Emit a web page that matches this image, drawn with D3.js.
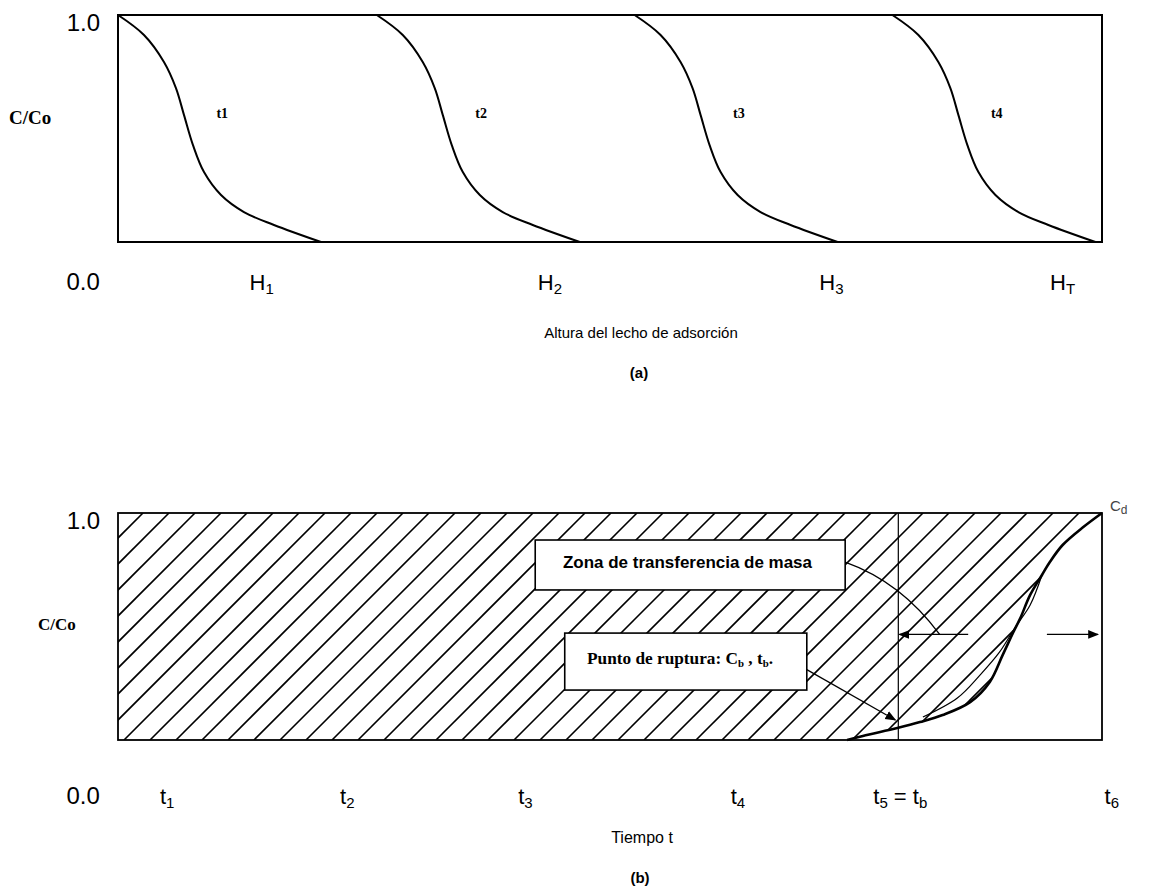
<!DOCTYPE html>
<html>
<head>
<meta charset="utf-8">
<script src="https://cdn.jsdelivr.net/npm/d3@7"></script>
<style>
  html, body { margin: 0; padding: 0; background: #fff; }
  svg { display: block; }
</style>
</head>
<body>
<svg id="chart" width="1153" height="887"></svg>
<script>
// ---------------- DATA ----------------
// (a) concentration profile shape along the bed (offset from curve start, bed-height units 0-100)
const profileOffset = [0, 2.64, 4.67, 5.89, 6.71, 7.62, 8.74, 10.47, 12.80, 15.85, 20.63];
const profileC      = [1.0, 0.912, 0.793, 0.678, 0.559, 0.427, 0.308, 0.207, 0.132, 0.075, 0.0];
const profileNames  = ["t1", "t2", "t3", "t4"];
const profileStart  = [0, 26.3, 52.5, 78.7];
const profileLabelOffset = 10.6;
const profileLabelC = 0.568;
const heightTickPos    = [-1.85, 14.6, 43.9, 72.5, 96.0];
const heightTickLabels = ["0.0", "H_1", "H_2", "H_3", "H_T"];

// (b) breakthrough curve (time units 0-100)
const breakT = [74.1, 75.7, 79.2, 81.5, 83.8, 86.6, 88.6, 89.9, 91.0, 91.7, 92.7, 93.9, 94.7, 96.0, 98.1, 100];
const breakC = [0.0, 0.018, 0.053, 0.079, 0.110, 0.167, 0.256, 0.374, 0.476, 0.537, 0.639, 0.727, 0.784, 0.859, 0.938, 1.0];
const innerT = [81.8, 85.3, 87.6, 89.6, 91.2, 92.7, 93.9];
const innerC = [0.101, 0.185, 0.286, 0.388, 0.498, 0.595, 0.727];
const breakpointT = 79.3;
const timeTickPos    = [-1.85, 5.0, 23.3, 41.4, 63.0, 79.5, 101.0];
const timeTickLabels = ["0.0", "t_1", "t_2", "t_3", "t_4", "t_5 = t_b", "t_6"];

// ---------------- SETUP ----------------
const svg = d3.select("#chart");
const SANS = "'Liberation Sans', Arial, Helvetica, sans-serif";
const SERIF = "'Liberation Serif', 'Times New Roman', serif";

const x = d3.scaleLinear().domain([0, 100]).range([118, 1102]);
const yA = d3.scaleLinear().domain([0, 1]).range([242, 15]);
const yB = d3.scaleLinear().domain([0, 1]).range([740, 513]);

// marker
const defs = svg.append("defs");
defs.append("marker").attr("id", "arr").attr("viewBox", "0 0 10 10")
  .attr("refX", 9).attr("refY", 5).attr("markerWidth", 11).attr("markerHeight", 11)
  .attr("markerUnits", "userSpaceOnUse").attr("orient", "auto")
  .append("path").attr("d", "M0,1 L10,5 L0,9 Z").attr("fill", "#000");

function subText(sel, str, subSize) {
  const parts = str.split(/_(\w)/);
  parts.forEach((p, i) => {
    if (p === "") return;
    if (i % 2 === 0) sel.append("tspan").text(p);
    else sel.append("tspan").attr("font-size", subSize).attr("baseline-shift", "-28%").text(p);
  });
}

// ---------------- CHART (a) ----------------
const gA = svg.append("g");
const lineA = d3.line().x(d => x(d[0])).y(d => yA(d[1])).curve(d3.curveCatmullRom.alpha(0.5));

profileStart.forEach((s, i) => {
  const pts = profileOffset.map((o, j) => [s + o, profileC[j]]);
  gA.append("path").attr("d", lineA(pts)).attr("fill", "none")
    .attr("stroke", "#000").attr("stroke-width", 2);
  gA.append("text").attr("x", x(s + profileLabelOffset)).attr("y", yA(profileLabelC) + 5)
    .attr("text-anchor", "middle").attr("font-family", SERIF).attr("font-weight", "bold")
    .attr("font-size", 14).text(profileNames[i]);
});

gA.append("rect").attr("x", x(0)).attr("y", yA(1)).attr("width", x(100) - x(0))
  .attr("height", yA(0) - yA(1)).attr("fill", "none").attr("stroke", "#000").attr("stroke-width", 2);

gA.append("text").attr("x", 100).attr("y", yA(1) + 16).attr("text-anchor", "end")
  .attr("font-family", SANS).attr("font-size", 24).text("1.0");
gA.append("text").attr("x", 9).attr("y", yA(0.55) + 7).attr("font-family", SERIF)
  .attr("font-weight", "bold").attr("font-size", 19).text("C/Co");

heightTickPos.forEach((p, i) => {
  const t = gA.append("text").attr("x", x(p)).attr("y", 290)
    .attr("text-anchor", i === 0 ? "end" : "middle")
    .attr("font-family", SANS).attr("font-size", i === 0 ? 24 : 22);
  subText(t, heightTickLabels[i], 15);
});
gA.append("text").attr("x", 641).attr("y", 338).attr("text-anchor", "middle")
  .attr("font-family", SANS).attr("font-size", 15).text("Altura del lecho de adsorción");
gA.append("text").attr("x", 639).attr("y", 378).attr("text-anchor", "middle")
  .attr("font-family", SANS).attr("font-weight", "bold").attr("font-size", 15).text("(a)");

// ---------------- CHART (b) ----------------
const gB = svg.append("g");
const breakPts = breakT.map((t, i) => [t, breakC[i]]);
const lineB = d3.line().x(d => x(d[0])).y(d => yB(d[1])).curve(d3.curveCatmullRom.alpha(0.5));

// hatched region (left of / above the breakthrough curve)
const rev = lineB(breakPts.slice().reverse()).replace(/^M/, "L");
const clipD = `M${x(0)},${yB(1)}` + rev + `L${x(0)},${yB(0)}Z`;
defs.append("clipPath").attr("id", "hatchClip").append("path").attr("d", clipD);

const hatch = gB.append("g").attr("clip-path", "url(#hatchClip)");
const spacing = 26;
const base = x(0) + 25 + yB(1);
const cMin = x(0) + yB(1), cMax = x(100) + yB(0);
const cs = d3.range(Math.ceil((cMin - base) / spacing), Math.floor((cMax - base) / spacing) + 1)
  .map(k => base + k * spacing);
hatch.selectAll("line").data(cs).join("line")
  .attr("x1", c => c - yB(0)).attr("y1", yB(0))
  .attr("x2", c => c - yB(1)).attr("y2", yB(1))
  .attr("stroke", "#000").attr("stroke-width", 1.6);

// breakpoint vertical
gB.append("line").attr("x1", x(breakpointT)).attr("x2", x(breakpointT))
  .attr("y1", yB(1)).attr("y2", yB(0)).attr("stroke", "#000").attr("stroke-width", 1.2);

// frame
gB.append("rect").attr("x", x(0)).attr("y", yB(1)).attr("width", x(100) - x(0))
  .attr("height", yB(0) - yB(1)).attr("fill", "none").attr("stroke", "#000").attr("stroke-width", 1.8);

// inner thin curve and breakthrough curve
gB.append("path").attr("d", lineB(innerT.map((t, i) => [t, innerC[i]])))
  .attr("fill", "none").attr("stroke", "#000").attr("stroke-width", 1.2);
gB.append("path").attr("d", lineB(breakPts)).attr("fill", "none")
  .attr("stroke", "#000").attr("stroke-width", 2.6);

// annotation boxes
const box1 = {x0: 42.4, x1: 73.9, c0: 0.881, c1: 0.661};
const box2 = {x0: 45.4, x1: 70.0, c0: 0.471, c1: 0.220};
[box1, box2].forEach(b => {
  gB.append("rect").attr("x", x(b.x0)).attr("y", yB(b.c0))
    .attr("width", x(b.x1) - x(b.x0)).attr("height", yB(b.c1) - yB(b.c0))
    .attr("fill", "#fff").attr("stroke", "#000").attr("stroke-width", 1.6);
});
gB.append("text").attr("x", 563).attr("y", 568)
  .attr("font-family", SANS).attr("font-weight", "bold").attr("font-size", 16)
  .attr("textLength", 249).attr("lengthAdjust", "spacingAndGlyphs")
  .text("Zona de transferencia de masa");
const t2 = gB.append("text").attr("x", 587).attr("y", 664)
  .attr("font-family", SERIF).attr("font-weight", "bold").attr("font-size", 16)
  .attr("textLength", 186).attr("lengthAdjust", "spacingAndGlyphs");
subText(t2, "Punto de ruptura: C_b , t_b.", 10);

// arrows
gB.append("path")
  .attr("d", `M${x(73.9)},${yB(0.784)} Q${x(79.6)},${yB(0.696)} ${x(83.5)},${yB(0.465)}`)
  .attr("fill", "none").attr("stroke", "#000").attr("stroke-width", 1.3);
gB.append("line").attr("x1", x(86.4)).attr("y1", yB(0.465)).attr("x2", x(breakpointT) + 1).attr("y2", yB(0.465))
  .attr("stroke", "#000").attr("stroke-width", 1.3).attr("marker-end", "url(#arr)");
gB.append("line").attr("x1", x(70.0)).attr("y1", yB(0.31)).attr("x2", x(79.0)).attr("y2", yB(0.088))
  .attr("stroke", "#000").attr("stroke-width", 1.3).attr("marker-end", "url(#arr)");
gB.append("line").attr("x1", x(94.4)).attr("y1", yB(0.465)).attr("x2", x(99.6)).attr("y2", yB(0.465))
  .attr("stroke", "#000").attr("stroke-width", 1.3).attr("marker-end", "url(#arr)");

// labels
gB.append("text").attr("x", 100).attr("y", yB(1) + 16).attr("text-anchor", "end")
  .attr("font-family", SANS).attr("font-size", 24).text("1.0");
gB.append("text").attr("x", 38).attr("y", yB(0.51) + 6).attr("font-family", SERIF)
  .attr("font-weight", "bold").attr("font-size", 17).text("C/Co");
const cd = gB.append("text").attr("x", 1110).attr("y", 511).attr("font-family", SANS)
  .attr("font-size", 15).attr("fill", "#444");
subText(cd, "C_d", 12);

timeTickPos.forEach((p, i) => {
  const t = gB.append("text").attr("x", x(p)).attr("y", 804)
    .attr("text-anchor", i === 0 ? "end" : "middle")
    .attr("font-family", SANS).attr("font-size", i === 0 ? 24 : 22);
  subText(t, timeTickLabels[i], 15);
});
gB.append("text").attr("x", 642).attr("y", 843).attr("text-anchor", "middle")
  .attr("font-family", SANS).attr("font-size", 16).text("Tiempo t");
gB.append("text").attr("x", 640).attr("y", 883).attr("text-anchor", "middle")
  .attr("font-family", SANS).attr("font-weight", "bold").attr("font-size", 15).text("(b)");
</script>
</body>
</html>
